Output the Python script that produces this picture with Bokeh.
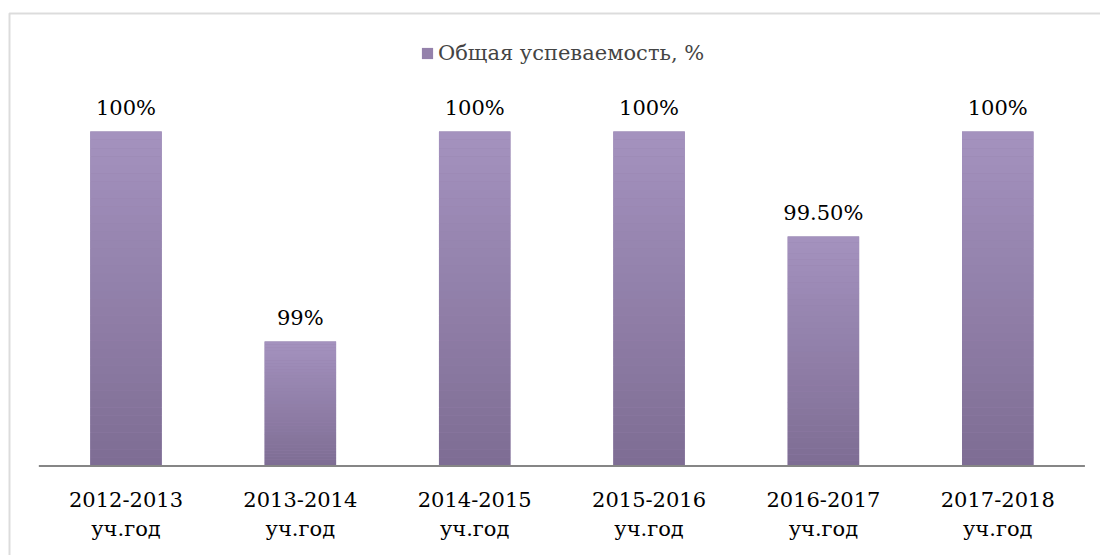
from bokeh.plotting import figure
from bokeh.models import ColumnDataSource, Range1d, Legend, LegendItem, BoxAnnotation
from bokeh.core.properties import value
from bokeh.embed import file_html
from bokeh.resources import INLINE

# ---- data ----
years = ["2012-2013", "2013-2014", "2014-2015", "2015-2016", "2016-2017", "2017-2018"]
year_suffix = ["уч.год"] * len(years)
values = [100, 99, 100, 100, 99.5, 100]
value_labels = ["100%", "99%", "100%", "100%", "99.50%", "100%"]
series_name = "Общая успеваемость, %"

FONT = "DejaVu Serif"
FS = "21px"

W, H = 1100, 555
STEP = 174.35          # px per category
X0_PX = 125.5          # px of first category centre
PX_PER_UNIT = 210.0    # px per 1 %
Y100_PX = 131.0        # px of the 100 % level
X_START = -X0_PX / STEP
X_END = X_START + W / STEP
Y_END = 100 + Y100_PX / PX_PER_UNIT
Y_START = Y_END - H / PX_PER_UNIT
Y_BASE = 100 - (465.5 - Y100_PX) / PX_PER_UNIT

idx = list(range(len(years)))

p = figure(width=W, height=H, x_range=Range1d(X_START, X_END), y_range=Range1d(Y_START, Y_END),
           output_backend="svg", toolbar_location=None,
           min_border=0, min_border_left=0, min_border_right=0, min_border_top=0, min_border_bottom=0)
p.axis.visible = False
p.grid.visible = False
p.outline_line_color = None

# chart border (only left and top edges are inside the picture)
p.add_layout(BoxAnnotation(left=X_START + 9 / STEP, right=X_END + 1,
                           top=Y_END - 13 / PX_PER_UNIT, bottom=Y_START - 1,
                           fill_alpha=0, line_color="#8c8c8c", line_width=2,
                           editable=False))

src = ColumnDataSource(dict(x=idx, top=values, lab=value_labels, yr=years, sfx=year_suffix))
base = p.vbar(x="x", top="top", bottom=Y_BASE, width=0.41, source=src,
              fill_color="#9481AB", line_color=None)

# gradient slices (light top -> darker bottom)
top_rgb = (0xA4, 0x92, 0xBF)
bot_rgb = (0x7E, 0x6D, 0x93)
N = 40
gx, gb, gt, gc = [], [], [], []
for i, v in zip(idx, values):
    for k in range(N):
        f0, f1 = k / N, (k + 1) / N
        gx.append(i)
        gb.append(Y_BASE + (v - Y_BASE) * f0)
        gt.append(Y_BASE + (v - Y_BASE) * f1 + 1e-4)
        fm = (f0 + f1) / 2
        rgb = tuple(int(round(b + (t - b) * fm)) for b, t in zip(bot_rgb, top_rgb))
        gc.append("#%02x%02x%02x" % rgb)
p.vbar(x=gx, bottom=gb, top=gt, width=0.41, fill_color=gc, line_color=None)

# x axis line
p.segment(x0=[idx[0] - 0.5], x1=[idx[-1] + 0.5], y0=[Y_BASE], y1=[Y_BASE],
          line_color="#868686", line_width=2)

# value labels
p.text(x="x", y="top", text="lab", source=src, y_offset=-24,
       text_align="center", text_baseline="alphabetic",
       text_font=value(FONT), text_font_size=FS, text_color="#000000")

# category labels (two lines)
p.text(x="x", y=Y_BASE, text="yr", source=src, y_offset=33,
       text_align="center", text_baseline="alphabetic",
       text_font=value(FONT), text_font_size=FS, text_color="#000000")
p.text(x="x", y=Y_BASE, text="sfx", source=src, y_offset=63,
       text_align="center", text_baseline="alphabetic",
       text_font=value(FONT), text_font_size=FS, text_color="#000000")

legend = Legend(items=[LegendItem(label=series_name, renderers=[base])],
                location=(420, H - 65), orientation="horizontal",
                margin=0, padding=0, glyph_width=14, glyph_height=14, label_height=24,
                label_standoff=4, label_text_font=FONT, label_text_font_size=FS,
                border_line_color=None, background_fill_alpha=0)
p.add_layout(legend)

open("out.html", "w").write(file_html(p, INLINE))
